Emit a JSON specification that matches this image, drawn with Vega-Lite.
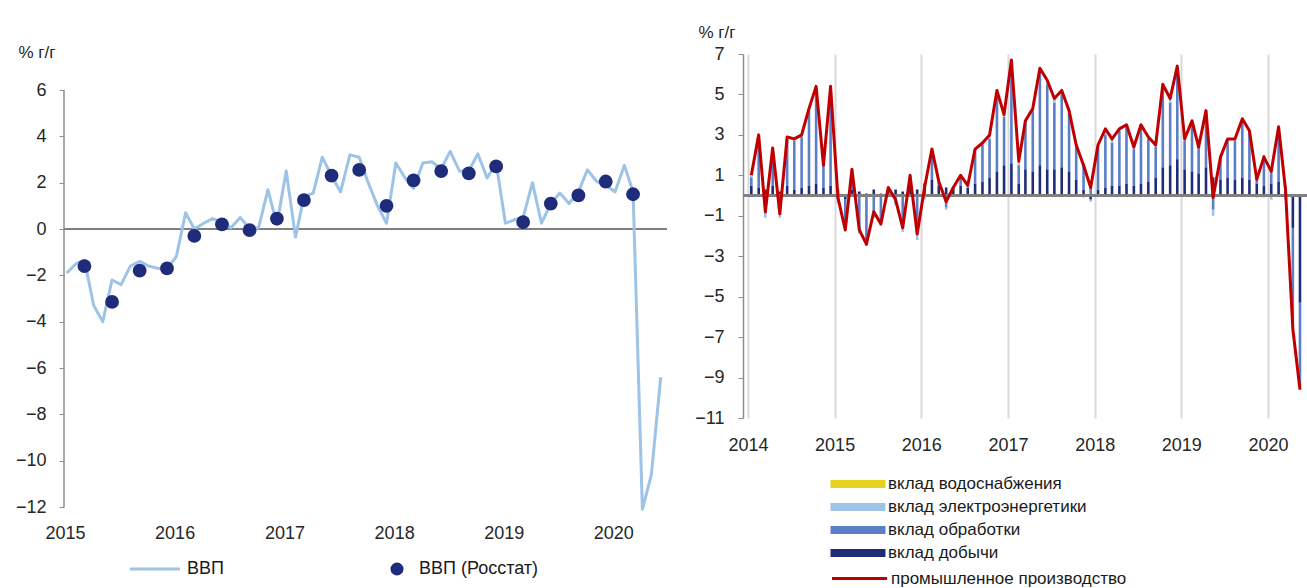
{
  "$schema": "https://vega.github.io/schema/vega-lite/v6.json",
  "background": "white",
  "padding": {"left": 15, "top": 23, "right": 0, "bottom": 0},
  "bounds": "flush",
  "spacing": 76,
  "resolve": {"scale": {"fill": "independent", "stroke": "independent"}, "legend": {"fill": "independent", "stroke": "independent"}},
  "config": {
    "font": "Liberation Sans",
    "view": {"stroke": null},
    "axis": {"labelFont": "Liberation Sans", "labelFontSize": 18, "labelColor": "#262626", "titleFont": "Liberation Sans", "titleFontSize": 17, "titleFontWeight": "normal", "titleColor": "#262626"},
    "legend": {"labelFont": "Liberation Sans", "labelColor": "#1a1a1a", "labelLimit": 400}
  },
  "datasets": {
    "gdp": [
      {"d": "2015-01-10", "v": -1.9}, {"d": "2015-02-10", "v": -1.5}, {"d": "2015-03-10", "v": -1.35}, {"d": "2015-04-10", "v": -3.3},
      {"d": "2015-05-10", "v": -4.0}, {"d": "2015-06-10", "v": -2.2}, {"d": "2015-07-10", "v": -2.4}, {"d": "2015-08-10", "v": -1.6},
      {"d": "2015-09-10", "v": -1.4}, {"d": "2015-10-10", "v": -1.6}, {"d": "2015-11-10", "v": -1.7}, {"d": "2015-12-10", "v": -1.7},
      {"d": "2016-01-10", "v": -1.2}, {"d": "2016-02-10", "v": 0.7}, {"d": "2016-03-10", "v": 0.0}, {"d": "2016-04-10", "v": 0.25},
      {"d": "2016-05-10", "v": 0.45}, {"d": "2016-06-10", "v": 0.3}, {"d": "2016-07-10", "v": 0.05}, {"d": "2016-08-10", "v": 0.5},
      {"d": "2016-09-10", "v": 0.0}, {"d": "2016-10-10", "v": 0.05}, {"d": "2016-11-10", "v": 1.7}, {"d": "2016-12-10", "v": 0.2},
      {"d": "2017-01-10", "v": 2.5}, {"d": "2017-02-10", "v": -0.35}, {"d": "2017-03-10", "v": 1.4}, {"d": "2017-04-10", "v": 1.55},
      {"d": "2017-05-10", "v": 3.1}, {"d": "2017-06-10", "v": 2.3}, {"d": "2017-07-10", "v": 1.6}, {"d": "2017-08-10", "v": 3.2},
      {"d": "2017-09-10", "v": 3.1}, {"d": "2017-10-10", "v": 2.0}, {"d": "2017-11-10", "v": 1.0}, {"d": "2017-12-10", "v": 0.25},
      {"d": "2018-01-10", "v": 2.85}, {"d": "2018-02-10", "v": 2.2}, {"d": "2018-03-10", "v": 1.75}, {"d": "2018-04-10", "v": 2.85},
      {"d": "2018-05-10", "v": 2.9}, {"d": "2018-06-10", "v": 2.6}, {"d": "2018-07-10", "v": 3.35}, {"d": "2018-08-10", "v": 2.5},
      {"d": "2018-09-10", "v": 2.5}, {"d": "2018-10-10", "v": 3.25}, {"d": "2018-11-10", "v": 2.2}, {"d": "2018-12-10", "v": 2.85},
      {"d": "2019-01-10", "v": 0.25}, {"d": "2019-02-10", "v": 0.4}, {"d": "2019-03-10", "v": 0.5}, {"d": "2019-04-10", "v": 2.0},
      {"d": "2019-05-10", "v": 0.25}, {"d": "2019-06-10", "v": 1.1}, {"d": "2019-07-10", "v": 1.55}, {"d": "2019-08-10", "v": 1.1},
      {"d": "2019-09-10", "v": 1.6}, {"d": "2019-10-10", "v": 2.55}, {"d": "2019-11-10", "v": 2.05}, {"d": "2019-12-10", "v": 1.9},
      {"d": "2020-01-10", "v": 1.6}, {"d": "2020-02-10", "v": 2.75}, {"d": "2020-03-10", "v": 1.6}, {"d": "2020-04-10", "v": -12.1},
      {"d": "2020-05-10", "v": -10.6}, {"d": "2020-06-10", "v": -6.4}
    ],
    "gdpq": [
      {"d": "2015-03-10", "v": -1.6}, {"d": "2015-06-10", "v": -3.15}, {"d": "2015-09-10", "v": -1.8}, {"d": "2015-12-10", "v": -1.7},
      {"d": "2016-03-10", "v": -0.3}, {"d": "2016-06-10", "v": 0.2}, {"d": "2016-09-10", "v": -0.05}, {"d": "2016-12-10", "v": 0.45},
      {"d": "2017-03-10", "v": 1.25}, {"d": "2017-06-10", "v": 2.3}, {"d": "2017-09-10", "v": 2.55}, {"d": "2017-12-10", "v": 1.0},
      {"d": "2018-03-10", "v": 2.1}, {"d": "2018-06-10", "v": 2.5}, {"d": "2018-09-10", "v": 2.4}, {"d": "2018-12-10", "v": 2.7},
      {"d": "2019-03-10", "v": 0.3}, {"d": "2019-06-10", "v": 1.1}, {"d": "2019-09-10", "v": 1.45}, {"d": "2019-12-10", "v": 2.05},
      {"d": "2020-03-10", "v": 1.5}
    ],
    "ip": [
      {"d": "2014-01-15", "t": 1.0, "k1": 0.5, "k2": 0.4, "k3": 0.1, "k4": 0.0},
      {"d": "2014-02-15", "t": 3.0, "k1": 0.4, "k2": 2.35, "k3": 0.2, "k4": 0.05},
      {"d": "2014-03-15", "t": -0.8, "k1": 0.3, "k2": -0.9, "k3": -0.2, "k4": 0.0},
      {"d": "2014-04-15", "t": 2.35, "k1": 0.5, "k2": 1.75, "k3": 0.1, "k4": 0.0},
      {"d": "2014-05-15", "t": -0.9, "k1": 0.2, "k2": -0.8, "k3": -0.3, "k4": 0.0},
      {"d": "2014-06-15", "t": 2.9, "k1": 0.5, "k2": 2.25, "k3": 0.1, "k4": 0.05},
      {"d": "2014-07-15", "t": 2.8, "k1": 0.3, "k2": 2.4, "k3": 0.1, "k4": 0.0},
      {"d": "2014-08-15", "t": 3.0, "k1": 0.4, "k2": 2.5, "k3": 0.1, "k4": 0.0},
      {"d": "2014-09-15", "t": 4.3, "k1": 0.5, "k2": 3.7, "k3": 0.1, "k4": 0.0},
      {"d": "2014-10-15", "t": 5.4, "k1": 0.6, "k2": 4.65, "k3": 0.1, "k4": 0.05},
      {"d": "2014-11-15", "t": 1.5, "k1": 0.4, "k2": 1.2, "k3": -0.1, "k4": 0.0},
      {"d": "2014-12-15", "t": 5.4, "k1": 0.5, "k2": 4.65, "k3": 0.2, "k4": 0.05},
      {"d": "2015-01-15", "t": -0.1, "k1": 0.3, "k2": -0.2, "k3": -0.2, "k4": 0.0},
      {"d": "2015-02-15", "t": -1.7, "k1": -0.2, "k2": -1.3, "k3": -0.2, "k4": 0.0},
      {"d": "2015-03-15", "t": 1.3, "k1": 0.3, "k2": 0.9, "k3": 0.1, "k4": 0.0},
      {"d": "2015-04-15", "t": -1.7, "k1": 0.2, "k2": -1.7, "k3": -0.2, "k4": 0.0},
      {"d": "2015-05-15", "t": -2.4, "k1": 0.1, "k2": -2.3, "k3": -0.2, "k4": 0.0},
      {"d": "2015-06-15", "t": -0.8, "k1": 0.3, "k2": -1.0, "k3": -0.1, "k4": 0.0},
      {"d": "2015-07-15", "t": -1.4, "k1": 0.1, "k2": -1.4, "k3": -0.1, "k4": 0.0},
      {"d": "2015-08-15", "t": 0.4, "k1": 0.2, "k2": 0.2, "k3": 0.0, "k4": 0.0},
      {"d": "2015-09-15", "t": -0.2, "k1": 0.3, "k2": -0.4, "k3": -0.1, "k4": 0.0},
      {"d": "2015-10-15", "t": -1.6, "k1": 0.2, "k2": -1.6, "k3": -0.2, "k4": 0.0},
      {"d": "2015-11-15", "t": 1.0, "k1": 0.4, "k2": 0.5, "k3": 0.1, "k4": 0.0},
      {"d": "2015-12-15", "t": -1.9, "k1": 0.3, "k2": -1.9, "k3": -0.3, "k4": 0.0},
      {"d": "2016-01-15", "t": 0.4, "k1": 0.6, "k2": 0.0, "k3": -0.2, "k4": 0.0},
      {"d": "2016-02-15", "t": 2.3, "k1": 0.8, "k2": 1.25, "k3": 0.2, "k4": 0.05},
      {"d": "2016-03-15", "t": 0.7, "k1": 0.5, "k2": 0.2, "k3": 0.0, "k4": 0.0},
      {"d": "2016-04-15", "t": -0.3, "k1": 0.4, "k2": -0.6, "k3": -0.1, "k4": 0.0},
      {"d": "2016-05-15", "t": 0.4, "k1": 0.4, "k2": 0.0, "k3": 0.0, "k4": 0.0},
      {"d": "2016-06-15", "t": 1.0, "k1": 0.5, "k2": 0.4, "k3": 0.1, "k4": 0.0},
      {"d": "2016-07-15", "t": 0.5, "k1": 0.4, "k2": 0.0, "k3": 0.1, "k4": 0.0},
      {"d": "2016-08-15", "t": 2.3, "k1": 0.6, "k2": 1.6, "k3": 0.1, "k4": 0.0},
      {"d": "2016-09-15", "t": 2.6, "k1": 0.7, "k2": 1.8, "k3": 0.1, "k4": 0.0},
      {"d": "2016-10-15", "t": 3.0, "k1": 0.9, "k2": 1.9, "k3": 0.2, "k4": 0.0},
      {"d": "2016-11-15", "t": 5.2, "k1": 1.2, "k2": 3.65, "k3": 0.3, "k4": 0.05},
      {"d": "2016-12-15", "t": 4.0, "k1": 1.5, "k2": 2.4, "k3": 0.1, "k4": 0.0},
      {"d": "2017-01-15", "t": 6.7, "k1": 1.6, "k2": 4.6, "k3": 0.4, "k4": 0.1},
      {"d": "2017-02-15", "t": 1.7, "k1": 0.6, "k2": 0.9, "k3": 0.1, "k4": 0.1},
      {"d": "2017-03-15", "t": 3.7, "k1": 1.3, "k2": 2.3, "k3": 0.1, "k4": 0.0},
      {"d": "2017-04-15", "t": 4.3, "k1": 1.2, "k2": 3.0, "k3": 0.1, "k4": 0.0},
      {"d": "2017-05-15", "t": 6.3, "k1": 1.5, "k2": 4.6, "k3": 0.2, "k4": 0.0},
      {"d": "2017-06-15", "t": 5.7, "k1": 1.3, "k2": 4.2, "k3": 0.2, "k4": 0.0},
      {"d": "2017-07-15", "t": 4.8, "k1": 1.3, "k2": 3.3, "k3": 0.2, "k4": 0.0},
      {"d": "2017-08-15", "t": 5.2, "k1": 1.4, "k2": 3.6, "k3": 0.2, "k4": 0.0},
      {"d": "2017-09-15", "t": 4.2, "k1": 1.2, "k2": 2.9, "k3": 0.1, "k4": 0.0},
      {"d": "2017-10-15", "t": 2.5, "k1": 0.8, "k2": 1.6, "k3": 0.1, "k4": 0.0},
      {"d": "2017-11-15", "t": 1.5, "k1": 0.3, "k2": 1.3, "k3": -0.1, "k4": 0.0},
      {"d": "2017-12-15", "t": 0.4, "k1": -0.2, "k2": 0.7, "k3": -0.1, "k4": 0.0},
      {"d": "2018-01-15", "t": 2.5, "k1": 0.3, "k2": 2.0, "k3": 0.2, "k4": 0.0},
      {"d": "2018-02-15", "t": 3.3, "k1": 0.4, "k2": 2.6, "k3": 0.3, "k4": 0.0},
      {"d": "2018-03-15", "t": 2.8, "k1": 0.5, "k2": 2.1, "k3": 0.2, "k4": 0.0},
      {"d": "2018-04-15", "t": 3.3, "k1": 0.5, "k2": 2.7, "k3": 0.1, "k4": 0.0},
      {"d": "2018-05-15", "t": 3.5, "k1": 0.6, "k2": 2.8, "k3": 0.1, "k4": 0.0},
      {"d": "2018-06-15", "t": 2.4, "k1": 0.5, "k2": 1.8, "k3": 0.1, "k4": 0.0},
      {"d": "2018-07-15", "t": 3.5, "k1": 0.6, "k2": 2.8, "k3": 0.1, "k4": 0.0},
      {"d": "2018-08-15", "t": 2.9, "k1": 0.7, "k2": 2.1, "k3": 0.1, "k4": 0.0},
      {"d": "2018-09-15", "t": 2.5, "k1": 0.9, "k2": 1.5, "k3": 0.1, "k4": 0.0},
      {"d": "2018-10-15", "t": 5.5, "k1": 1.4, "k2": 3.9, "k3": 0.2, "k4": 0.0},
      {"d": "2018-11-15", "t": 4.8, "k1": 1.5, "k2": 3.1, "k3": 0.2, "k4": 0.0},
      {"d": "2018-12-15", "t": 6.4, "k1": 1.8, "k2": 4.3, "k3": 0.3, "k4": 0.0},
      {"d": "2019-01-15", "t": 2.8, "k1": 1.3, "k2": 1.4, "k3": 0.1, "k4": 0.0},
      {"d": "2019-02-15", "t": 3.7, "k1": 1.2, "k2": 2.4, "k3": 0.1, "k4": 0.0},
      {"d": "2019-03-15", "t": 2.4, "k1": 1.1, "k2": 1.3, "k3": 0.0, "k4": 0.0},
      {"d": "2019-04-15", "t": 4.2, "k1": 1.4, "k2": 2.7, "k3": 0.1, "k4": 0.0},
      {"d": "2019-05-15", "t": -0.1, "k1": 0.9, "k2": -0.7, "k3": -0.3, "k4": 0.0},
      {"d": "2019-06-15", "t": 1.9, "k1": 0.8, "k2": 1.1, "k3": 0.0, "k4": 0.0},
      {"d": "2019-07-15", "t": 2.8, "k1": 0.9, "k2": 1.8, "k3": 0.1, "k4": 0.0},
      {"d": "2019-08-15", "t": 2.8, "k1": 0.8, "k2": 1.9, "k3": 0.1, "k4": 0.0},
      {"d": "2019-09-15", "t": 3.8, "k1": 0.9, "k2": 2.8, "k3": 0.1, "k4": 0.0},
      {"d": "2019-10-15", "t": 3.2, "k1": 0.8, "k2": 2.3, "k3": 0.1, "k4": 0.0},
      {"d": "2019-11-15", "t": 0.8, "k1": 0.6, "k2": 0.3, "k3": -0.1, "k4": 0.0},
      {"d": "2019-12-15", "t": 1.9, "k1": 0.5, "k2": 1.5, "k3": -0.1, "k4": 0.0},
      {"d": "2020-01-15", "t": 1.2, "k1": 0.6, "k2": 0.8, "k3": -0.2, "k4": 0.0},
      {"d": "2020-02-15", "t": 3.4, "k1": 0.7, "k2": 2.6, "k3": 0.1, "k4": 0.0},
      {"d": "2020-03-15", "t": 0.3, "k1": 0.3, "k2": 0.2, "k3": -0.2, "k4": 0.0},
      {"d": "2020-04-15", "t": -6.6, "k1": -1.6, "k2": -4.7, "k3": -0.3, "k4": 0.0},
      {"d": "2020-05-15", "t": -9.6, "k1": -5.3, "k2": -4.1, "k3": -0.2, "k4": 0.0}
    ]
  },
  "hconcat": [
    {
      "width": 603,
      "height": 453,
      "layer": [
        {
          "data": {"values": [{"d": "2015-01-01"}]},
          "mark": {"type": "rule", "color": "#8c8c8c", "strokeWidth": 1.5},
          "encoding": {
            "x": {"field": "d", "type": "temporal"},
            "y": {"datum": -12},
            "y2": {"datum": 6}
          }
        },
        {
          "data": {"name": "gdp"},
          "mark": {"type": "rule", "color": "#808080", "strokeWidth": 1.5},
          "encoding": {"y": {"datum": 0}}
        },
        {
          "data": {"name": "gdp"},
          "mark": {"type": "line", "strokeWidth": 3, "strokeJoin": "round"},
          "encoding": {
            "x": {
              "field": "d", "type": "temporal",
              "scale": {"domain": ["2015-01-01", "2020-07-01"]},
              "axis": {"title": null, "format": "%Y", "values": ["2015-01-01", "2016-01-01", "2017-01-01", "2018-01-01", "2019-01-01", "2020-01-01"], "grid": false, "domain": false, "ticks": false, "tickSize": 0, "labelPadding": 17, "labelOffset": 1, "labelFlush": false}
            },
            "y": {
              "field": "v", "type": "quantitative",
              "scale": {"domain": [-12, 7.554], "nice": false, "zero": false},
              "axis": {"title": "% г/г", "titleAngle": 0, "titleAlign": "left", "titleBaseline": "top", "titleX": -46, "titleY": -10, "values": [-12, -10, -8, -6, -4, -2, 0, 2, 4, 6], "grid": false, "domain": false, "ticks": true, "tickSize": 5, "tickColor": "#8c8c8c", "labelPadding": 13}
            },
            "stroke": {
              "datum": "ВВП", "type": "nominal",
              "scale": {"range": ["#9dc3e6"]},
              "legend": {"orient": "none", "legendX": 82, "legendY": 506, "title": null, "labelFontSize": 18, "labelOffset": 23, "symbolType": "M-5,0H5", "symbolSize": 100, "symbolStrokeWidth": 3}
            }
          }
        },
        {
          "data": {"name": "gdpq"},
          "mark": {"type": "point", "filled": true, "size": 190, "opacity": 1},
          "encoding": {
            "x": {"field": "d", "type": "temporal"},
            "y": {"field": "v", "type": "quantitative"},
            "fill": {
              "datum": "ВВП (Росстат)", "type": "nominal",
              "scale": {"range": ["#1f2c7c"]},
              "legend": {"orient": "none", "legendX": 324, "legendY": 506, "title": null, "labelFontSize": 18, "labelOffset": 13, "symbolType": "circle", "symbolSize": 170, "symbolOpacity": 1}
            }
          }
        }
      ]
    },
    {
      "width": 566,
      "height": 364,
      "data": {"name": "ip"},
      "layer": [
        {
          "transform": [{"fold": ["k1", "k2", "k3", "k4"], "as": ["k", "val"]}],
          "mark": {"type": "bar", "size": 2.6},
          "encoding": {
            "x": {
              "field": "d", "type": "temporal",
              "scale": {"domain": ["2014-01-01", "2020-06-01"]},
              "axis": {"title": null, "format": "%Y", "values": ["2014-01-01", "2015-01-01", "2016-01-01", "2017-01-01", "2018-01-01", "2019-01-01", "2020-01-01"], "grid": true, "gridColor": "#d9d9d9", "gridWidth": 2, "domain": false, "ticks": false, "tickSize": 0, "labelPadding": 18, "labelFlush": false}
            },
            "y": {
              "field": "val", "type": "quantitative", "stack": "zero",
              "scale": {"domain": [-11, 7], "nice": false, "zero": false},
              "axis": {"title": "% г/г", "titleAngle": 0, "titleAlign": "left", "titleBaseline": "top", "titleX": -45, "titleY": -30, "values": [-11, -9, -7, -5, -3, -1, 1, 3, 5, 7], "grid": false, "domain": true, "domainColor": "#8c8c8c", "domainWidth": 1.5, "ticks": true, "tickSize": 5, "tickColor": "#8c8c8c", "labelPadding": 14}
            },
            "order": {"field": "k", "sort": "ascending"},
            "fill": {
              "field": "k", "type": "nominal",
              "scale": {"domain": ["k4", "k3", "k2", "k1"], "range": ["#e6d11e", "#9dc3e6", "#5b7ec8", "#1f2d78"]},
              "legend": {
                "orient": "none", "legendX": 105, "legendY": 420, "direction": "vertical", "title": null,
                "labelFontSize": 17, "labelOffset": 20, "rowPadding": 5, "symbolSize": 400,
                "symbolType": "M-2.75,-0.4H2.75V0.4H-2.75Z", "symbolStrokeWidth": 0,
                "labelExpr": "datum.value === 'k4' ? 'вклад водоснабжения' : datum.value === 'k3' ? 'вклад электроэнергетики' : datum.value === 'k2' ? 'вклад обработки' : 'вклад добычи'"
              }
            }
          }
        },
        {
          "mark": {"type": "rule", "color": "#808080", "strokeWidth": 1.5},
          "encoding": {"y": {"datum": 0}}
        },
        {
          "mark": {"type": "line", "strokeWidth": 3, "strokeJoin": "round"},
          "encoding": {
            "x": {"field": "d", "type": "temporal"},
            "y": {"field": "t", "type": "quantitative"},
            "stroke": {
              "datum": "промышленное производство", "type": "nominal",
              "scale": {"range": ["#c00000"]},
              "legend": {"orient": "none", "legendX": 105, "legendY": 513, "title": null, "labelFontSize": 17, "labelOffset": 20, "symbolType": "M-2.75,0H2.75", "symbolSize": 400, "symbolStrokeWidth": 3}
            }
          }
        }
      ]
    }
  ]
}
